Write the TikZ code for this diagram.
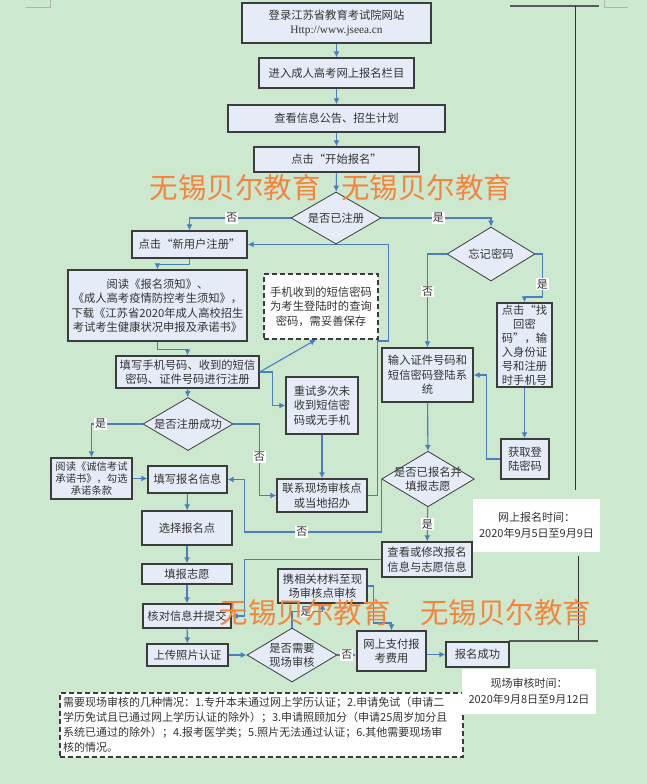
\documentclass[tikz,border=0pt]{standalone}
\usepackage{fontspec}
\setmainfont{Noto Sans CJK SC}
\newfontfamily\urlfont{Liberation Serif}
\usepackage{tikz}
\usetikzlibrary{arrows.meta,shapes.geometric}
\definecolor{pagegreen}{HTML}{CCE8CF}
\definecolor{boxfill}{HTML}{E6ECF7}
\definecolor{boxline}{HTML}{3C3C3C}
\definecolor{flowblue}{HTML}{4A7EBF}
\definecolor{inkgray}{HTML}{333333}
\definecolor{markorange}{HTML}{F5843C}

\begin{document}
\begin{tikzpicture}[
    x=1pt, y=-1pt,
    box/.style={draw=boxline, fill=boxfill, line width=1.4pt, inner sep=1pt, align=center, text=inkgray, font=\fontsize{11.3}{14.5}\selectfont},
    decision/.style={diamond, draw=boxline, fill=boxfill, line width=0.8pt, inner sep=0pt, aspect=1.67, minimum width=90pt, minimum height=54pt, align=center, text=inkgray, font=\fontsize{11.3}{14}\selectfont},
    memo/.style={draw=boxline, fill=white, dash pattern=on 5pt off 3pt, line width=1.3pt, inner sep=1pt, align=center, text=inkgray, font=\fontsize{11.3}{14.5}\selectfont},
    timebox/.style={fill=white, align=center, text=inkgray, font=\fontsize{11}{16}\selectfont},
    link/.style={draw=flowblue, line width=1.1pt, -{Latex[length=6pt,width=6pt]}},
    tag/.style={fill=white, inner sep=1pt, text=inkgray, font=\fontsize{11}{12}\selectfont},
    rule/.style={draw=black!80, line width=1pt},
    watermark/.style={text=markorange, font=\fontsize{28.5}{30}\selectfont}
]
    \fill[pagegreen] (0,0) rectangle (647,784);
    \useasboundingbox (0,0) rectangle (647,784);
    \draw[gray!60, line width=0.6pt] (26,7) -- (50,7) -- (50,0);
    \draw[gray!60, line width=0.6pt] (604,0) -- (604,7) -- (628,7);
    \draw[rule, line width=1.6pt, draw=black!65] (510,6) -- (599,6);
    \draw[rule] (575,6) -- (575,490);
    \draw[rule] (578,556) -- (578,641);
    \draw[rule, line width=1.6pt, draw=black!65] (509,641) -- (598,641);

    \node[box, minimum width=189pt, minimum height=40pt] (login) at (336.5,23) {登录江苏省教育考试院网站\\{\urlfont Http://www.jseea.cn}};
    \node[box, minimum width=155pt, minimum height=30pt] (enter) at (336.5,73) {进入成人高考网上报名栏目};
    \node[box, minimum width=217pt, minimum height=27pt] (notice) at (336.5,118.5) {查看信息公告、招生计划};
    \node[box, minimum width=165pt, minimum height=25pt] (start) at (336.5,159.5) {点击“开始报名”};
    \node[decision, minimum height=52pt] (registered) at (336,218) {是否已注册};
    \node[box, minimum width=115pt, minimum height=27pt] (newuser) at (189.5,244.5) {点击“新用户注册”};
    \node[box, minimum width=179pt, minimum height=71pt] (readfirst) at (157.5,305.5) {阅读《报名须知》、\\《成人高考疫情防控考生须知》，\\下载《江苏省2020年成人高校招生\\考试考生健康状况申报及承诺书》};
    \node[box, minimum width=143pt, minimum height=32pt] (fillphone) at (187.5,372) {填写手机号码、收到的短信\\密码、证件号码进行注册};
    \node[memo, minimum width=114pt, minimum height=65pt] (keepnote) at (321,306.5) {手机收到的短信密码\\为考生登陆时的查询\\密码，需妥善保存};
    \node[box, minimum width=72pt, minimum height=57pt] (retry) at (322,405.5) {重试多次未\\收到短信密\\码或无手机};
    \node[decision, minimum height=53pt] (regok) at (188,424) {是否注册成功};
    \node[box, minimum width=81pt, minimum height=41pt, font=\fontsize{10.3}{12}\selectfont] (pledge) at (91.5,478.5) {阅读《诚信考试\\承诺书》，勾选\\承诺条款};
    \node[box, minimum width=79pt, minimum height=27pt] (fillinfo) at (187.5,479.5) {填写报名信息};
    \node[box, minimum width=90pt, minimum height=33pt] (contact) at (322,495.5) {联系现场审核点\\或当地招办};
    \node[decision, minimum width=88pt] (forgot) at (491,254) {忘记密码};
    \node[box, minimum width=55pt, minimum height=84pt, font=\fontsize{11.3}{14}\selectfont] (retrieve) at (524.5,345) {点击“找\\回密\\码”，输\\入身份证\\号和注册\\时手机号};
    \node[box, minimum width=91pt, minimum height=54pt] (pwdlogin) at (427.5,375) {输入证件号码和\\短信密码登陆系\\统};
    \node[box, minimum width=48pt, minimum height=40pt] (getpwd) at (525,459) {获取登\\陆密码};
    \node[decision, inner xsep=-8pt] (applied) at (428,479) {是否已报名并\\填报志愿};
    \node[box, minimum width=90pt, minimum height=35pt] (revise) at (427,559.5) {查看或修改报名\\信息与志愿信息};
    \node[box, minimum width=90pt, minimum height=34pt] (site) at (187,528) {选择报名点};
    \node[box, minimum width=90pt, minimum height=20pt] (wish) at (187,574) {填报志愿};
    \node[box, minimum width=88pt, minimum height=24pt] (verify) at (187,616) {核对信息并提交};
    \node[box, minimum width=81pt, minimum height=22pt] (photo) at (187.5,655) {上传照片认证};
    \node[decision] (onsite) at (292,655) {是否需要\\现场审核};
    \node[box, minimum width=89pt, minimum height=34pt] (carry) at (322.5,586) {携相关材料至现\\场审核点审核};
    \node[box, minimum width=69pt, minimum height=40pt] (pay) at (391.5,651) {网上支付报\\考费用};
    \node[box, minimum width=63pt, minimum height=25pt] (done) at (477.5,654.5) {报名成功};
    \node[memo, text width=397pt, inner xsep=3pt, align=left, minimum height=64pt, font=\fontsize{11}{15}\selectfont] (cases) at (261.5,725) {需要现场审核的几种情况：1.专升本未通过网上学历认证；2.申请免试（申请二\\学历免试且已通过网上学历认证的除外）；3.申请照顾加分（申请25周岁加分且\\系统已通过的除外）；4.报考医学类；5.照片无法通过认证；6.其他需要现场审\\核的情况。};
    \node[timebox, minimum width=127pt, minimum height=53pt] (onlinetime) at (536.5,525.5) {网上报名时间：\\2020年9月5日至9月9日};
    \node[timebox, minimum width=134pt, minimum height=45pt] (sitetime) at (529,691.5) {现场审核时间：\\2020年9月8日至9月12日};

    \draw[link] (login) -- (enter);
    \draw[link] (enter) -- (notice);
    \draw[link] (notice) -- (start);
    \draw[link] (start) -- (registered);
    \draw[link] (registered.west) -| node[tag, pos=0.29] {否} (newuser.north);
    \draw[link] (registered.east) -| node[tag, pos=0.26] {是} (forgot.north);
    \draw[link] (newuser.south) -- ++(0,6) -| (readfirst.north);
    \draw[link] (readfirst.south) -- ++(0,8) -| (fillphone.north);
    \draw[link] (fillphone.east) -- ([xshift=-5pt]keepnote.south);
    \draw[link] (fillphone.east) -- ++(13,0) |- (retry.west);
    \draw[link] (fillphone) -- (regok);
    \draw[link] (regok.west) -| node[tag, pos=0.41] {是} (pledge.north);
    \draw[link] (regok.east) -- ++(26,0) |- node[tag, pos=0.23] {否} (contact.west);
    \draw[link] (pledge.east) -- (pledge.east -| fillinfo.west);
    \draw[link] (retry) -- (contact);
    \draw[link] (contact.east) -- ++(10,0) -- ++(0,-154.5) -- ++(11,0) |- (newuser.east);
    \draw[link] (forgot.west) -| node[tag, pos=0.70] {否} (pwdlogin.north);
    \draw[link] (forgot.east) -- ++(7,0) -- node[tag, pos=0.7] {是} ++(0,43) -| (retrieve.north);
    \draw[link] (retrieve.south) -- (retrieve.south |- getpwd.north);
    \draw[link] (getpwd.west) -- ++(-14,0) |- (pwdlogin.east);
    \draw[link] (pwdlogin) -- (applied);
    \draw[link] (applied) -- node[tag] {是} (revise);
    \draw[link] (applied.west) -- ++(0,53) -- node[tag, pos=0.58] {否} ++(-137,0) |- (fillinfo.east);
    \draw[link] (fillinfo) -- (site);
    \draw[link] (site) -- (wish);
    \draw[link] (wish) -- (verify);
    \draw[link] (verify) -- (photo);
    \draw[link] (revise.west) -- ++(-137,0) |- (verify.east);
    \draw[link] (photo) -- (onsite);
    \draw[link] (onsite.north) -- ++(0,-16) -| node[tag, pos=0.23] {是} (carry.south);
    \draw[link] (onsite.east) -- node[tag] {否} (onsite.east -| pay.west);
    \draw[link] (carry.east) -- ++(6,0) -- ++(0,37) -| (pay.north);
    \draw[link] (pay.east |- done.west) -- (done.west);

    \node[watermark] (mark1) at (331,188) {无锡贝尔教育\hspace{21pt}无锡贝尔教育};
    \node[watermark] (mark2) at (405.5,613) {无锡贝尔教育\hspace{30pt}无锡贝尔教育};
\end{tikzpicture}
\end{document}
